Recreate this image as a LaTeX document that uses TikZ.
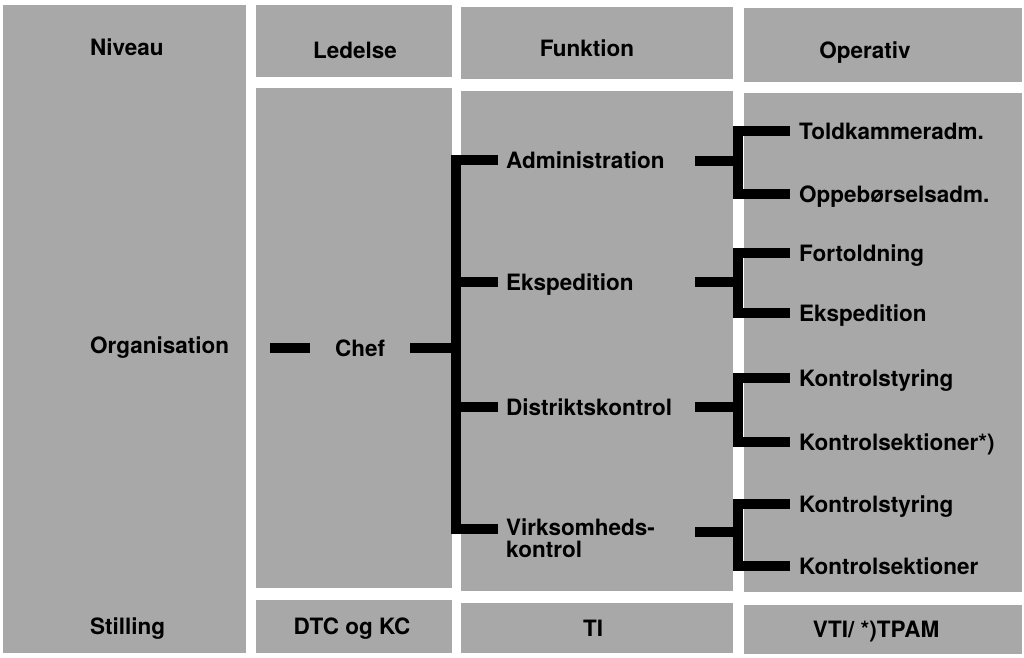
\documentclass[tikz,border=0pt]{standalone}
\usepackage{fontspec}
\setmainfont{TeX Gyre Heros}
\definecolor{screen}{gray}{0.66}
\begin{document}
\begin{tikzpicture}[x=1pt,y=-1pt]
	\tikzstyle{every node}+=[inner sep=0pt, font=\fontsize{22.5}{21.5}\selectfont\bfseries]
	\tikzstyle{capline}=[text height=16pt, text depth=0pt]
	\tikzstyle{funk}=[capline, anchor=west, inner xsep=8pt]
	\tikzstyle{oper}=[capline, anchor=west, inner xsep=9pt]
	\tikzstyle{bar}=[black, line width=10pt]
	\useasboundingbox (0,0) rectangle (1024,657);
	\fill [screen] (3,5) rectangle (246,653);
	\fill [screen] (256,5) rectangle (452,77);
	\fill [screen] (256,88) rectangle (452,588);
	\fill [screen] (256,600) rectangle (452,653);
	\fill [screen] (461,7) rectangle (733,79);
	\fill [screen] (461,91) rectangle (733,591);
	\fill [screen] (461,603) rectangle (733,653);
	\fill [screen] (744,8) rectangle (1022,82);
	\fill [screen] (744,93) rectangle (1022,592);
	\fill [screen] (744,605) rectangle (1022,654);
	\node [capline, anchor=west] (niveau) at (90,47) {Niveau};
	\node [capline] (ledelse) at (355,50) {Ledelse};
	\node [capline] (funktion) at (587,48) {Funktion};
	\node [capline] (operativ) at (865,50) {Operativ};
	\node [capline, anchor=west] (org) at (90,345) {Organisation};
	\node [capline, anchor=west] (stilling) at (90,626) {Stilling};
	\node [capline] (dtc) at (352,626) {DTC og KC};
	\node [capline] (ti) at (593,628) {TI};
	\node [capline] (vti) at (876,629) {VTI/ *)TPAM};
	\node [capline, inner xsep=25pt] (chef) at (360,348) {Chef};
	\coordinate (lead) at (270,348);
	\draw [bar] (chef.west) -- (lead);
	\node [funk] (adm) at (498,160) {Administration};
	\node [funk] (eksp) at (498,282) {Ekspedition};
	\node [funk] (distr) at (498,407) {Distriktskontrol};
	\node [anchor=north west, inner xsep=8pt, align=left] (virk) at (498,519) {Virksomheds-\\kontrol};
	\coordinate (vk) at (498,529);
	\coordinate (bus) at (456,529);
	\draw [bar] (adm.west) -| (bus) -- (vk);
	\draw [bar] (eksp.west) -- (eksp.west -| bus);
	\draw [bar] (distr.west) -- (distr.west -| bus);
	\draw [bar] (chef.east) -- (chef.east -| bus);
	\node [oper] (tk) at (790,131) {Toldkammeradm.};
	\node [oper] (ob) at (790,194) {Oppebørselsadm.};
	\node [oper] (fo) at (790,253) {Fortoldning};
	\node [oper] (ekop) at (790,313) {Ekspedition};
	\node [oper] (ks1) at (790,378) {Kontrolstyring};
	\node [oper] (kse1) at (790,442) {Kontrolsektioner*)};
	\node [oper] (ks2) at (790,504) {Kontrolstyring};
	\node [oper] (kse2) at (790,566) {Kontrolsektioner};
	\coordinate (j1) at (737.5,161);
	\coordinate (j2) at (737.5,282);
	\coordinate (j3) at (737.5,407);
	\coordinate (j4) at (737.5,532);
	\coordinate (s1) at (695,161);
	\coordinate (s2) at (695,282);
	\coordinate (s3) at (695,407);
	\coordinate (s4) at (695,532);
	\draw [bar] (tk.west) -| (j1) |- (ob.west);
	\draw [bar] (s1) -- (j1);
	\draw [bar] (fo.west) -| (j2) |- (ekop.west);
	\draw [bar] (s2) -- (j2);
	\draw [bar] (ks1.west) -| (j3) |- (kse1.west);
	\draw [bar] (s3) -- (j3);
	\draw [bar] (ks2.west) -| (j4) |- (kse2.west);
	\draw [bar] (s4) -- (j4);
\end{tikzpicture}
\end{document}
